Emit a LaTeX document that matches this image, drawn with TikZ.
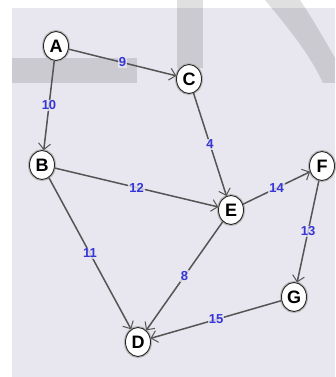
\documentclass[tikz,border=0pt]{standalone}
\usepackage{fontspec}
\setmainfont{Liberation Sans}
\usetikzlibrary{arrows.meta,shapes.geometric}
\definecolor{panel}{HTML}{E8E6EE}
\definecolor{edgecol}{HTML}{555555}
\definecolor{lblblue}{HTML}{3535D8}
\tikzset{
  vtx/.style={ellipse, draw=black!85, line width=0.9pt, fill=white,
    minimum width=25pt, minimum height=29pt, inner sep=0pt,
    font=\fontsize{18}{18}\selectfont\bfseries,
    preaction={draw=gray!55, line width=3.2pt}},
  arc/.style={draw=edgecol, line width=1.5pt,
    -{Straight Barb[length=6pt,width=12pt,line width=1pt]}},
  wt/.style={font=\fontsize{13}{13}\selectfont\bfseries, text=lblblue,
    fill=panel, fill opacity=0.8, text opacity=1, inner sep=1pt},
  wm/.style={fill=black, fill opacity=0.12, draw=none}
}
\begin{document}
\begin{tikzpicture}[x=1pt,y=-1pt]
\useasboundingbox (0,0) rectangle (335,377);
\fill[white] (0,0) rectangle (335,377);
\fill[panel] (12,8) rectangle (335,377);
% watermark shapes
\fill[wm] (12,58) rectangle (137,83);
\fill[wm] (177,0) rectangle (203,68);
\fill[wm] (265,0) .. controls (290,30) and (310,55) .. (323,83) -- (335,83) -- (335,58)
  .. controls (322,35) and (310,15) .. (300,0) -- cycle;
% nodes
\node[vtx] (A) at (56,46) {A};
\node[vtx] (C) at (189,79) {C};
\node[vtx] (B) at (42,165) {B};
\node[vtx] (E) at (231,210) {E};
\node[vtx] (F) at (322,166) {F};
\node[vtx] (G) at (294,297) {G};
\node[vtx] (D) at (138,342) {D};
% edges
\draw[arc] (A) -- node[wt] {9} (C);
\draw[arc] (A) -- node[wt] {10} (B);
\draw[arc] (C) -- node[wt] {4} (E);
\draw[arc] (B) -- node[wt] {12} (E);
\draw[arc] (B) -- node[wt] {11} (D);
\draw[arc] (E) -- node[wt] {14} (F);
\draw[arc] (E) -- node[wt] {8} (D);
\draw[arc] (F) -- node[wt] {13} (G);
\draw[arc] (G) -- node[wt] {15} (D);
\end{tikzpicture}
\end{document}
